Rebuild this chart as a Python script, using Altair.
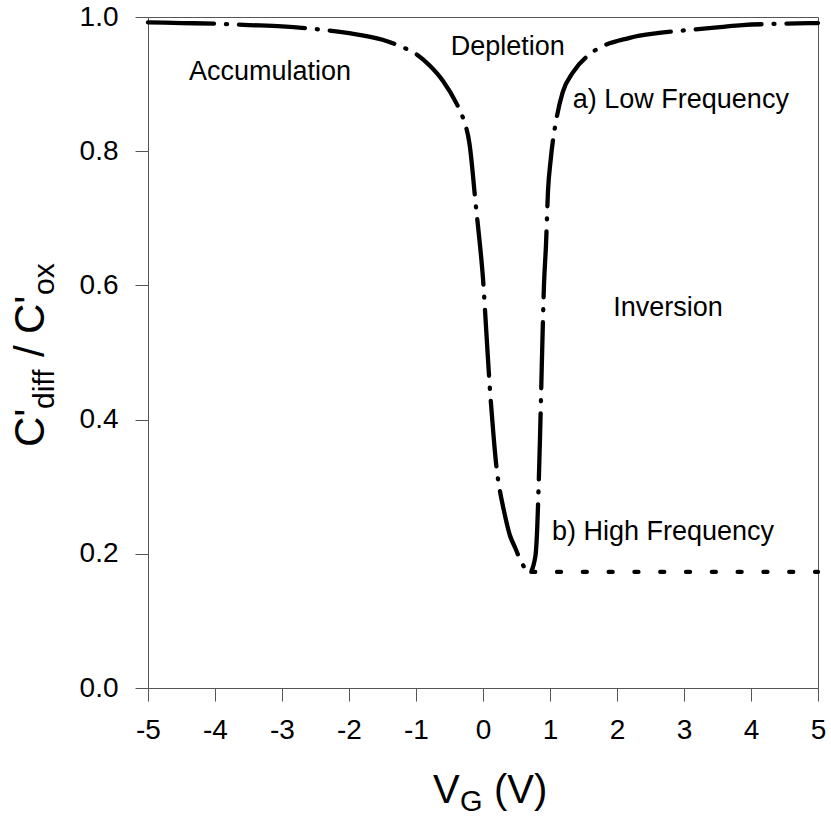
import altair as alt
import pandas as pd

# Low-frequency C-V curve (a)
vg_low = [-5.0, -4.5, -4.0, -3.5, -3.0, -2.5, -2.0, -1.5, -1.2, -1.0, -0.8, -0.6, -0.4,
          -0.3, -0.2, -0.1, -0.05, 0.0, 0.05, 0.1, 0.15, 0.2, 0.25, 0.3, 0.4, 0.48, 0.58,
          0.7, 0.78, 0.81, 0.83, 0.85, 0.87, 0.89, 0.91, 0.94, 0.97, 1.01, 1.1, 1.19, 1.34,
          1.6, 2.19, 2.6, 3.0, 3.54, 3.87, 4.5, 5.0]
c_low = [0.992, 0.991, 0.990, 0.988, 0.986, 0.982, 0.976, 0.966, 0.955, 0.945, 0.928, 0.905, 0.872,
         0.850, 0.810, 0.712, 0.665, 0.610, 0.530, 0.450, 0.385, 0.330, 0.295, 0.270, 0.228, 0.209, 0.186,
         0.173, 0.195, 0.240, 0.300, 0.370, 0.450, 0.530, 0.600, 0.660, 0.740, 0.787, 0.850, 0.888, 0.917,
         0.945, 0.969, 0.976, 0.980, 0.985, 0.988, 0.990, 0.991]

# High-frequency curve (b), flat part
vg_high = [0.72, 5.0]
c_high = [0.173, 0.173]

# Annotations
ann_text = ["Accumulation", "Depletion", "Inversion"]
ann_v = [-3.18, 0.37, 2.76]
ann_c = [0.918, 0.955, 0.566]
ann_left_text = ["a) Low Frequency", "b) High Frequency"]
ann_left_v = [1.34, 1.03]
ann_left_c = [0.876, 0.233]

x_ticks = [-5, -4, -3, -2, -1, 0, 1, 2, 3, 4, 5]
y_ticks = [0.0, 0.2, 0.4, 0.6, 0.8, 1.0]

FONT = "Liberation Sans"

low_df = pd.DataFrame({"V": vg_low, "C": c_low})
high_df = pd.DataFrame({"V": vg_high, "C": c_high})
ann_df = pd.DataFrame({"V": ann_v, "C": ann_c, "t": ann_text})
annl_df = pd.DataFrame({"V": ann_left_v, "C": ann_left_c, "t": ann_left_text})

xscale = alt.Scale(domain=[-5, 5], nice=False, zero=False)
yscale = alt.Scale(domain=[0, 1], nice=False)

xaxis = alt.Axis(values=x_ticks, title=None, grid=False, tickSize=13, labelFontSize=28,
                 labelFont=FONT, labelColor="black", labelPadding=15, domainColor="#555",
                 tickColor="#555", labelFlush=False,
                 labelExpr="datum.value < 0 ? '-' + abs(datum.value) : '' + datum.value")
yaxis = alt.Axis(values=y_ticks, title=None, grid=False, tickSize=13, labelFontSize=28,
                 labelFont=FONT, labelColor="black", labelPadding=17, format=".1f",
                 domainColor="#555", tickColor="#555", labelFlush=False)

low = alt.Chart(low_df).mark_line(
    color="black", strokeWidth=4.3, strokeDash=[66, 12, 1, 12], strokeCap="round",
    interpolate="monotone"
).encode(x=alt.X("V:Q", scale=xscale, axis=xaxis), y=alt.Y("C:Q", scale=yscale, axis=yaxis))

high = alt.Chart(high_df).mark_line(
    color="black", strokeWidth=4.3, strokeDash=[4, 21.8], strokeCap="round"
).encode(x=alt.X("V:Q", scale=xscale), y=alt.Y("C:Q", scale=yscale))

ann = alt.Chart(ann_df).mark_text(
    font=FONT, fontSize=27, align="center", baseline="middle", color="black"
).encode(x=alt.X("V:Q", scale=xscale), y=alt.Y("C:Q", scale=yscale), text="t:N")

annl = alt.Chart(annl_df).mark_text(
    font=FONT, fontSize=27, align="left", baseline="middle", color="black"
).encode(x=alt.X("V:Q", scale=xscale), y=alt.Y("C:Q", scale=yscale), text="t:N")

one = pd.DataFrame({"k": [0]})


def piece(txt, px, py, size, angle=0):
    kw = dict(font=FONT, fontSize=size, align="left", baseline="alphabetic", color="black",
              text=txt)
    if angle:
        kw["angle"] = angle
    return alt.Chart(one).mark_text(**kw).encode(x=alt.value(px), y=alt.value(py))


# x title: V_G (V)
xt = [piece("V", 285, 786, 40), piece("G", 312, 794, 29), piece("(V)", 346, 786, 40)]
# y title: C'diff / C'ox (rotated)
yt = [piece("C'", -104, 430, 42, 270), piece("diff", -94, 392, 30, 270),
      piece("/", -104, 340, 42, 270), piece("C'", -104, 317, 42, 270),
      piece("ox", -94, 278, 30, 270)]

chart = alt.layer(low, high, ann, annl, *xt, *yt).properties(
    width=670, height=671,
    autosize=alt.AutoSizeParams(type="none"),
    padding={"left": 148, "top": 17, "right": 13, "bottom": 133},
).configure_view(stroke="#555", strokeWidth=1)

chart.save("out.html", embed_options={"renderer": "svg", "actions": False})
